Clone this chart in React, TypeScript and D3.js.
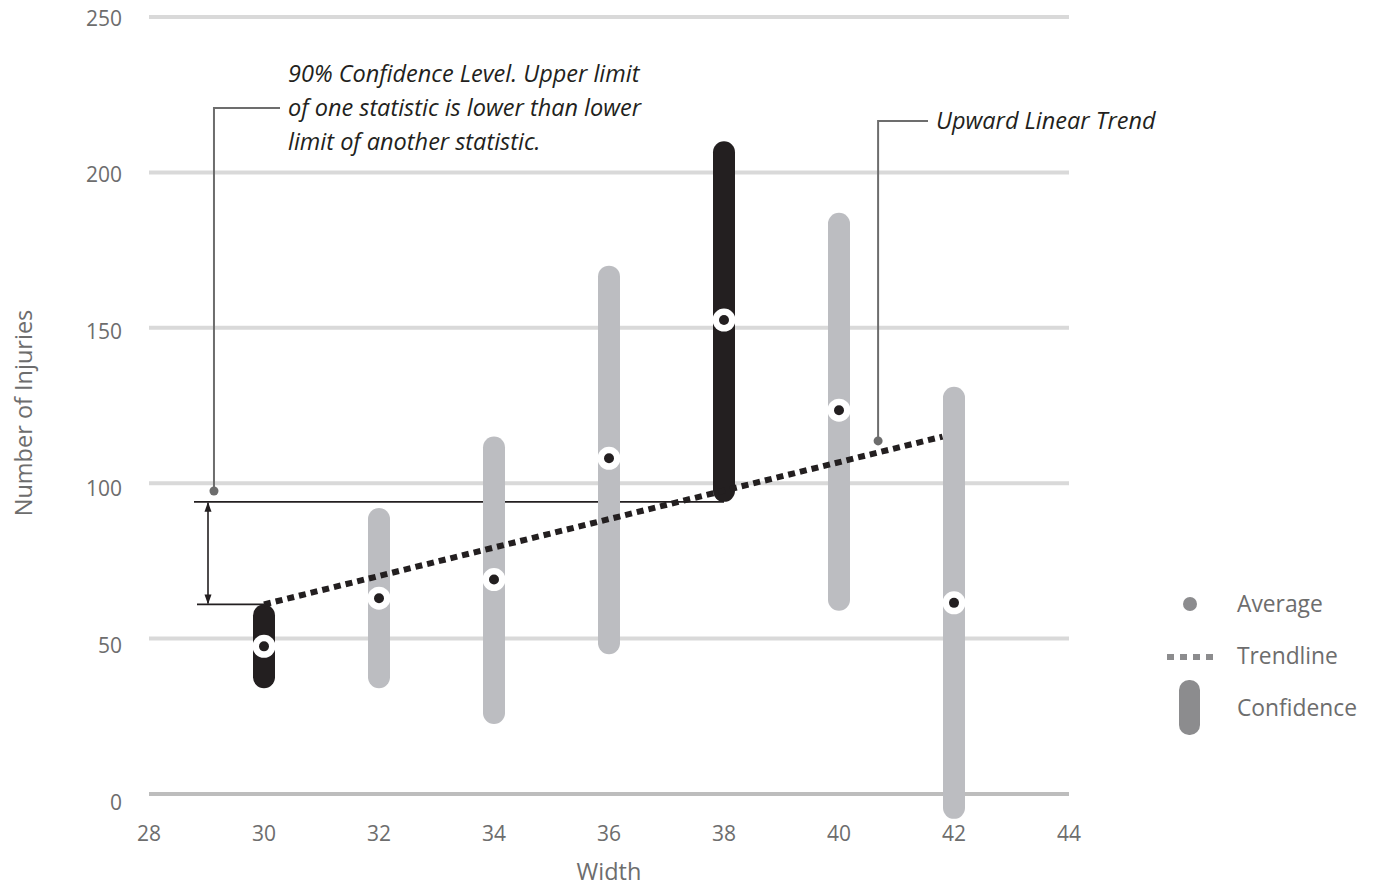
import React from "react";
import * as d3 from "d3";

// data
const widths = [30, 32, 34, 36, 38, 40, 42];
const lowerLimits = [34, 34, 22.5, 45, 94, 59, -8];
const upperLimits = [61, 92, 115, 170, 210, 187, 131];
const averages = [47.5, 63, 69, 108, 152.5, 123.5, 61.5];
const highlighted = [true, false, false, false, true, false, false];

const trendStart = [30, 61];
const trendEnd = [41.8, 115];

const xTicks = [28, 30, 32, 34, 36, 38, 40, 42, 44];
const yTicks = [0, 50, 100, 150, 200, 250];

const W = 1374;
const H = 887;
const font = "'Open Sans', 'Noto Sans', sans-serif";

const App = () => {
  const x = d3.scaleLinear().domain([28, 44]).range([149, 1069]);
  const y = d3.scaleLinear().domain([0, 250]).range([794, 17]);
  // tick labels sit a little below their grid lines, more so toward the bottom
  const yLabel = d3.scaleLinear().domain([0, 250]).range([802, 18]);
  const barW = 22;

  const trend = d3.line<number[]>()
    .x((d) => x(d[0]))
    .y((d) => y(d[1]))([trendStart, trendEnd]);

  // callout anchors
  const note1 = { x: x(29.13), y: y(97.5) };
  const note2 = { x: x(40.68), y: y(113.6) };
  const upper30 = y(upperLimits[0]);
  const lower38 = y(lowerLimits[4]);

  return (
    <svg width={W} height={H} style={{ position: "absolute", left: 0, top: 0, background: "#fff" }}>
      <defs>
        <marker id="arr" viewBox="0 0 10 10" refX="9" refY="5" markerWidth="10" markerHeight="10" orient="auto-start-reverse" markerUnits="userSpaceOnUse">
          <path d="M0,1.5 L10,5 L0,8.5 Z" fill="#231f20" />
        </marker>
      </defs>

      {/* grid */}
      {yTicks.map((t) => (
        <line key={t} x1={x(28)} x2={x(44)} y1={y(t)} y2={y(t)}
          stroke={t === 0 ? "#bdbdbd" : "#d9d9d9"} strokeWidth={4} />
      ))}
      {yTicks.map((t) => (
        <text key={"yl" + t} x={122} y={yLabel(t) + 7.5} textAnchor="end" fontFamily={font}
          fontSize={21} fill="#6d6d6d">{t}</text>
      ))}
      {xTicks.map((t) => (
        <text key={"xl" + t} x={x(t)} y={841} textAnchor="middle" fontFamily={font}
          fontSize={21} fill="#6d6d6d">{t}</text>
      ))}
      <text x={609} y={880} textAnchor="middle" fontFamily={font} fontSize={23.5} fill="#6d6d6d">Width</text>
      <text transform={`translate(32,413) rotate(-90)`} textAnchor="middle" fontFamily={font}
        fontSize={23.5} fill="#6d6d6d">Number of Injuries</text>

      {/* reference lines */}
      <line x1={194} x2={x(38)} y1={lower38} y2={lower38} stroke="#231f20" strokeWidth={1.6} />
      <line x1={197} x2={x(30)} y1={upper30} y2={upper30} stroke="#231f20" strokeWidth={1.6} />
      <line x1={208} x2={208} y1={lower38 + 1} y2={upper30 - 1} stroke="#231f20" strokeWidth={1.6}
        markerStart="url(#arr)" markerEnd="url(#arr)" />

      {/* confidence bars */}
      {widths.map((w, i) => (
        <rect key={"b" + w} x={x(w) - barW / 2} y={y(upperLimits[i])} width={barW}
          height={y(lowerLimits[i]) - y(upperLimits[i])} rx={barW / 2}
          fill={highlighted[i] ? "#231f20" : "#bcbdc1"} />
      ))}

      {/* trendline */}
      <path d={trend || ""} fill="none" stroke="#231f20" strokeWidth={6} strokeDasharray="7 5" />

      {/* averages */}
      {widths.map((w, i) => (
        <g key={"a" + w}>
          <circle cx={x(w)} cy={y(averages[i])} r={11.5} fill="#fff" />
          <circle cx={x(w)} cy={y(averages[i])} r={5} fill="#231f20" />
        </g>
      ))}

      {/* callouts */}
      <polyline points={`${note1.x},${note1.y} ${note1.x},108 280,108`} fill="none" stroke="#6d6d6d" strokeWidth={2} />
      <circle cx={note1.x} cy={note1.y} r={4.5} fill="#6d6d6d" />
      <g fontFamily={font} fontStyle="italic" fontSize={23.5} fill="#231f20">
        <text x={288} y={82}>90% Confidence Level. Upper limit</text>
        <text x={288} y={116}>of one statistic is lower than lower</text>
        <text x={288} y={150}>limit of another statistic.</text>
      </g>
      <polyline points={`${note2.x},${note2.y} ${note2.x},121 928,121`} fill="none" stroke="#6d6d6d" strokeWidth={2} />
      <circle cx={note2.x} cy={note2.y} r={4.5} fill="#6d6d6d" />
      <text x={936} y={129} fontFamily={font} fontStyle="italic" fontSize={23.5} fill="#231f20">Upward Linear Trend</text>

      {/* legend */}
      <circle cx={1190} cy={604} r={7} fill="#8c8c8e" />
      <text x={1237} y={612} fontFamily={font} fontSize={22.8} fill="#6d6d6d">Average</text>
      <line x1={1167} x2={1214} y1={657} y2={657} stroke="#8c8c8e" strokeWidth={6} strokeDasharray="7 6" />
      <text x={1237} y={664} fontFamily={font} fontSize={22.8} fill="#6d6d6d">Trendline</text>
      <rect x={1179} y={680} width={21} height={55} rx={10} fill="#8c8c8e" />
      <text x={1237} y={716} fontFamily={font} fontSize={22.8} fill="#6d6d6d">Confidence</text>
    </svg>
  );
};

export default App;
